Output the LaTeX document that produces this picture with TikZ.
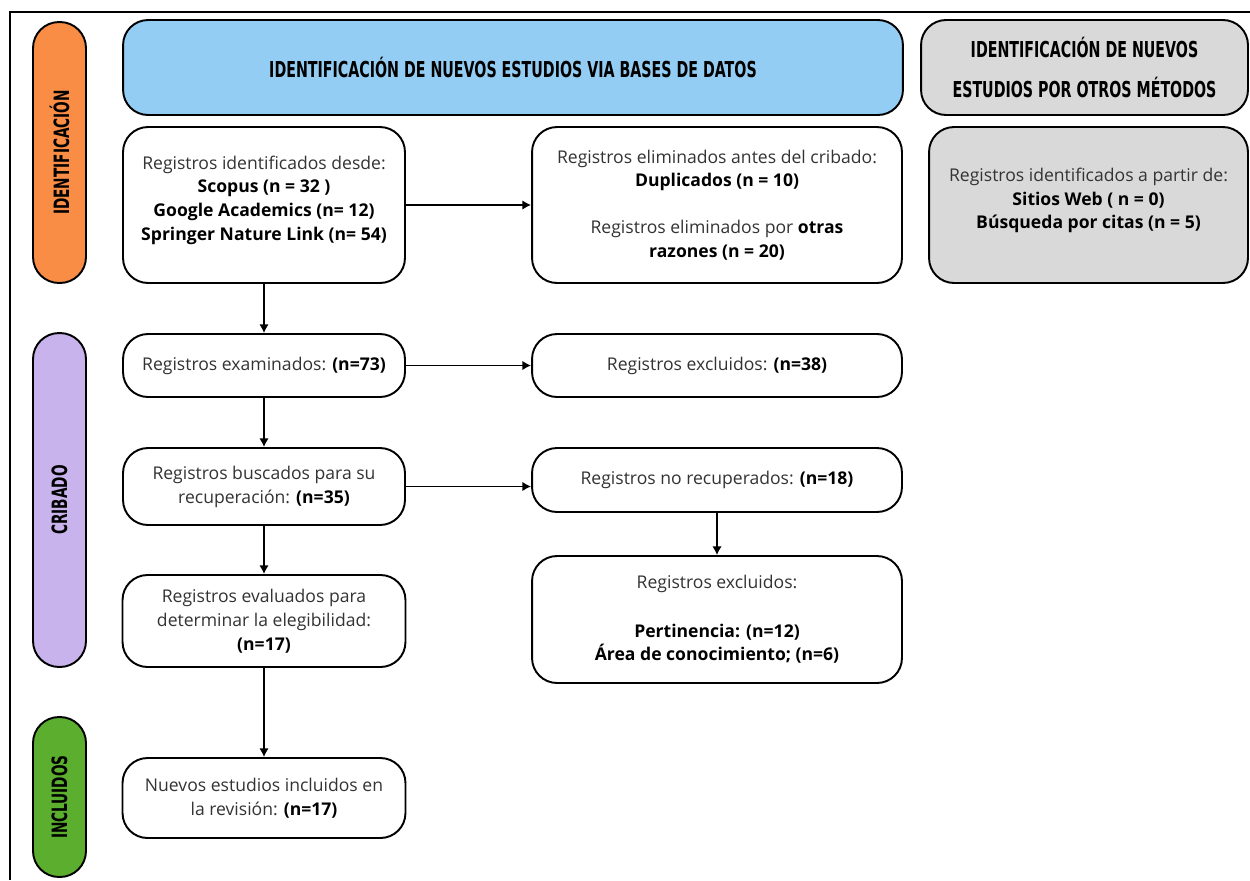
\documentclass[tikz,border=0pt]{standalone}
\usepackage{fontspec}
\setmainfont{Open Sans}
\newfontfamily\headfont[FakeStretch=0.72]{DejaVu Sans Condensed}
\usetikzlibrary{arrows.meta}
\definecolor{orange1}{HTML}{F98D45}
\definecolor{lilac}{HTML}{C9B3EC}
\definecolor{green1}{HTML}{5BAE2E}
\definecolor{sky}{HTML}{94CDF3}
\definecolor{grey1}{HTML}{D9D9D9}

\begin{document}
\begin{tikzpicture}[x=0.02cm,y=-0.02cm,
  >={Latex[length=5pt,width=5.5pt]},
  every path/.style={line width=1.1pt},
  box/.style={rectangle,rounded corners=0.5cm,draw,fill=white,inner sep=0pt,align=center,
    font=\fontsize{10}{13.6}\selectfont,text=black!80},
  head/.style={rectangle,rounded corners=0.5cm,draw,inner sep=0pt,align=center,
    font=\headfont\bfseries\fontsize{12.5}{22.7}\selectfont,text=black},
  pill/.style={rectangle,rounded corners=0.52cm,draw,inner sep=0pt,minimum width=1.06cm,
    font=\headfont\bfseries\fontsize{12}{13}\selectfont,text=black}]
\useasboundingbox (0,0) rectangle (1250,880);
\draw (10,880) -- (10,12) -- (1250,12);

\path (59.5,152.5) node[pill,fill=orange1,minimum height=5.22cm] (pidn) {\rotatebox{90}{IDENTIFICACIÓN}};
\path (59.5,500) node[pill,fill=lilac,minimum height=6.68cm] (pcri) {\rotatebox{90}{CRIBADO}};
\path (59.5,797) node[pill,fill=green1,minimum height=3.2cm] (pinc) {\rotatebox{90}{INCLUIDOS}};

\path (513,67.5) node[head,fill=sky,minimum width=15.6cm,minimum height=1.9cm] (hdb) {IDENTIFICACIÓN DE NUEVOS ESTUDIOS VIA BASES DE DATOS};
\path (1084.5,67.5) node[head,fill=grey1,minimum width=6.54cm,minimum height=1.9cm] (hotros) {IDENTIFICACIÓN DE NUEVOS\\ESTUDIOS POR OTROS MÉTODOS};

\path (264,205) node[box,minimum width=5.64cm,minimum height=3.12cm] (ident) {Registros identificados desde:\\\textbf{\color{black}Scopus (n = 32 )}\\\textbf{\color{black}Google Academics (n= 12)}\\\textbf{\color{black}Springer Nature Link (n= 54)}\\[-5.8pt]\mbox{}};
\path (717,205) node[box,minimum width=7.4cm,minimum height=3.12cm] (elim) {Registros eliminados antes del cribado:\\\textbf{\color{black}Duplicados (n = 10)}\\[13pt]Registros eliminados por \textbf{\color{black}otras}\\\textbf{\color{black}razones (n = 20)}};
\path (1088.5,205) node[box,fill=grey1,minimum width=6.38cm,minimum height=3.12cm] (webs) {Registros identificados a partir de:\\\textbf{\color{black}Sitios Web ( n = 0)}\\\textbf{\color{black}Búsqueda por citas (n = 5)}\\[-6pt]\mbox{}};

\path (264,365.5) node[box,minimum width=5.64cm,minimum height=1.26cm] (exam) {Registros examinados: \textbf{\color{black}(n=73)}};
\path (717,365.5) node[box,minimum width=7.4cm,minimum height=1.26cm] (excl) {Registros excluidos: \textbf{\color{black}(n=38)}};

\path (264,486.5) node[box,minimum width=5.64cm,minimum height=1.54cm] (busc) {Registros buscados para su\\recuperación: \textbf{\color{black}(n=35)}};
\path (717,480) node[box,minimum width=7.4cm,minimum height=1.28cm] (norec) {Registros no recuperados: \textbf{\color{black}(n=18)}};

\path (264,621) node[box,minimum width=5.66cm,minimum height=1.84cm] (eval) {Registros evaluados para\\determinar la elegibilidad:\\\textbf{\color{black}(n=17)}};
\path (717,619.5) node[box,minimum width=7.4cm,minimum height=2.54cm] (excl2) {Registros excluidos:\\[14pt]\textbf{\color{black}Pertinencia: (n=12)}\\\textbf{\color{black}Área de conocimiento; (n=6)}};

\path (264,798) node[box,minimum width=5.66cm,minimum height=1.6cm] (incl) {Nuevos estudios incluidos en\\la revisión: \textbf{\color{black}(n=17)}};

\draw[->] (ident) -- (elim);
\draw[->] (ident) -- (exam);
\draw[->] (exam) -- (excl);
\draw[->] (exam) -- (busc);
\draw[->] (busc) -- (busc -| norec.west);
\draw[->] (norec) -- (excl2);
\draw[->] (busc) -- (eval);
\draw[->] (eval) -- (incl);
\end{tikzpicture}
\end{document}
